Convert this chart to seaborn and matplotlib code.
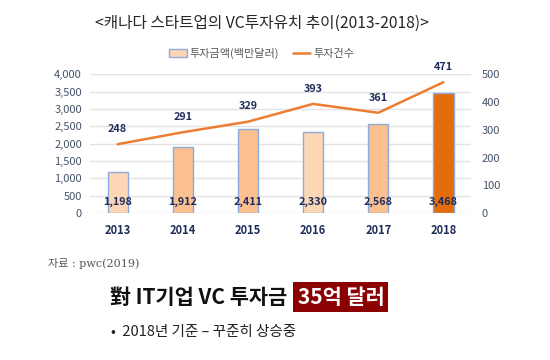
import numpy as np
import pandas as pd
import matplotlib
matplotlib.use("Agg")
import matplotlib.pyplot as plt
from matplotlib.patches import Patch
from matplotlib.lines import Line2D
from matplotlib.ticker import FuncFormatter
import seaborn as sns

# data
years = ["2013", "2014", "2015", "2016", "2017", "2018"]
amount = [1198, 1912, 2411, 2330, 2568, 3468]   # 투자금액(백만달러)
deals = [248, 291, 329, 393, 361, 471]           # 투자건수
bar_colors = ["#FDD7B5", "#FAC090", "#FAC090", "#FDD7B5", "#FAC090", "#E46C0A"]

sns.set_style("white")
plt.rcParams["font.family"] = ["Noto Sans CJK KR", "DejaVu Sans"]

tick_col = "#44546A"
navy = "#1F2D5A"

fig = plt.figure(figsize=(5.5, 3.6), dpi=100)
ax = fig.add_axes([0.164, 0.408, 0.692, 0.386])

df = pd.DataFrame({"year": years, "amount": amount})
sns.barplot(data=df, x="year", y="amount", hue="year", palette=bar_colors, saturation=1,
            width=0.31, edgecolor="#8EA9DB", linewidth=1.0, legend=False, ax=ax)
ax.set_ylim(0, 4000)
ax.set_yticks(np.arange(0, 4001, 500))
ax.yaxis.set_major_formatter(FuncFormatter(lambda v, p: f"{int(v):,}"))
ax.grid(axis="y", color="#E3E3E3", linewidth=1)
ax.set_axisbelow(True)
ax.set_xlabel("")
ax.set_ylabel("")
for s in ax.spines.values():
    s.set_visible(False)
ax.tick_params(axis="y", length=0, labelsize=8, labelcolor=tick_col, pad=6)
ax.tick_params(axis="x", length=0, labelsize=8, labelcolor=navy, pad=8)
for t in ax.get_xticklabels():
    t.set_fontweight("bold")

for i, v in enumerate(amount):
    ax.annotate(f"{v:,}", (i, 0), xytext=(0, 8), textcoords="offset points",
                ha="center", va="center", fontsize=7.8, fontweight="bold", color=navy)

ax2 = ax.twinx()
sns.lineplot(x=np.arange(len(years)), y=deals, color="#ED7D31", linewidth=1.8, ax=ax2)
ax2.set_ylim(0, 500)
ax2.set_yticks(np.arange(0, 501, 100))
ax2.set_xlim(ax.get_xlim())
for s in ax2.spines.values():
    s.set_visible(False)
ax2.tick_params(axis="y", length=0, labelsize=8, labelcolor=tick_col, pad=8)
for i, v in enumerate(deals):
    ax2.annotate(str(v), (i, v), xytext=(0, 11), textcoords="offset points",
                 ha="center", va="center", fontsize=7.8, fontweight="bold", color=navy)

# title and legend
fig.text(0.476, 0.936, "<캐나다 스타트업의 VC투자유치 추이(2013-2018)>",
         ha="center", va="center", fontsize=11.3, color="#262626")
handles = [Patch(facecolor="#FDD7B5", edgecolor="#8EA9DB", label="투자금액(백만달러)"),
           Line2D([0], [0], color="#ED7D31", linewidth=1.8, label="투자건수")]
fig.legend(handles=handles, loc="center", bbox_to_anchor=(0.476, 0.852), ncol=2,
           frameon=False, fontsize=8, labelcolor="#595959", handlelength=1.6,
           handletextpad=0.3, columnspacing=1.2)

# notes below the chart
fig.text(0.087, 0.268, "자료 : pwc(2019)", ha="left", va="center", fontsize=8,
         color="#555555", family=["DejaVu Serif", "Noto Sans CJK KR"])
fig.text(0.2, 0.175, "對 IT기업 VC 투자금", ha="left", va="center", fontsize=15,
         fontweight="bold", color="#111111")
fig.text(0.541, 0.175, "35억 달러", ha="left", va="center", fontsize=15,
         fontweight="bold", color="white",
         bbox=dict(boxstyle="square,pad=0.2", facecolor="#8B0000", edgecolor="none"))
fig.text(0.202, 0.077, "•  2018년 기준 – 꾸준히 상승중", ha="left", va="center",
         fontsize=10.5, color="#222222")

fig.savefig("out.png", dpi=100)
